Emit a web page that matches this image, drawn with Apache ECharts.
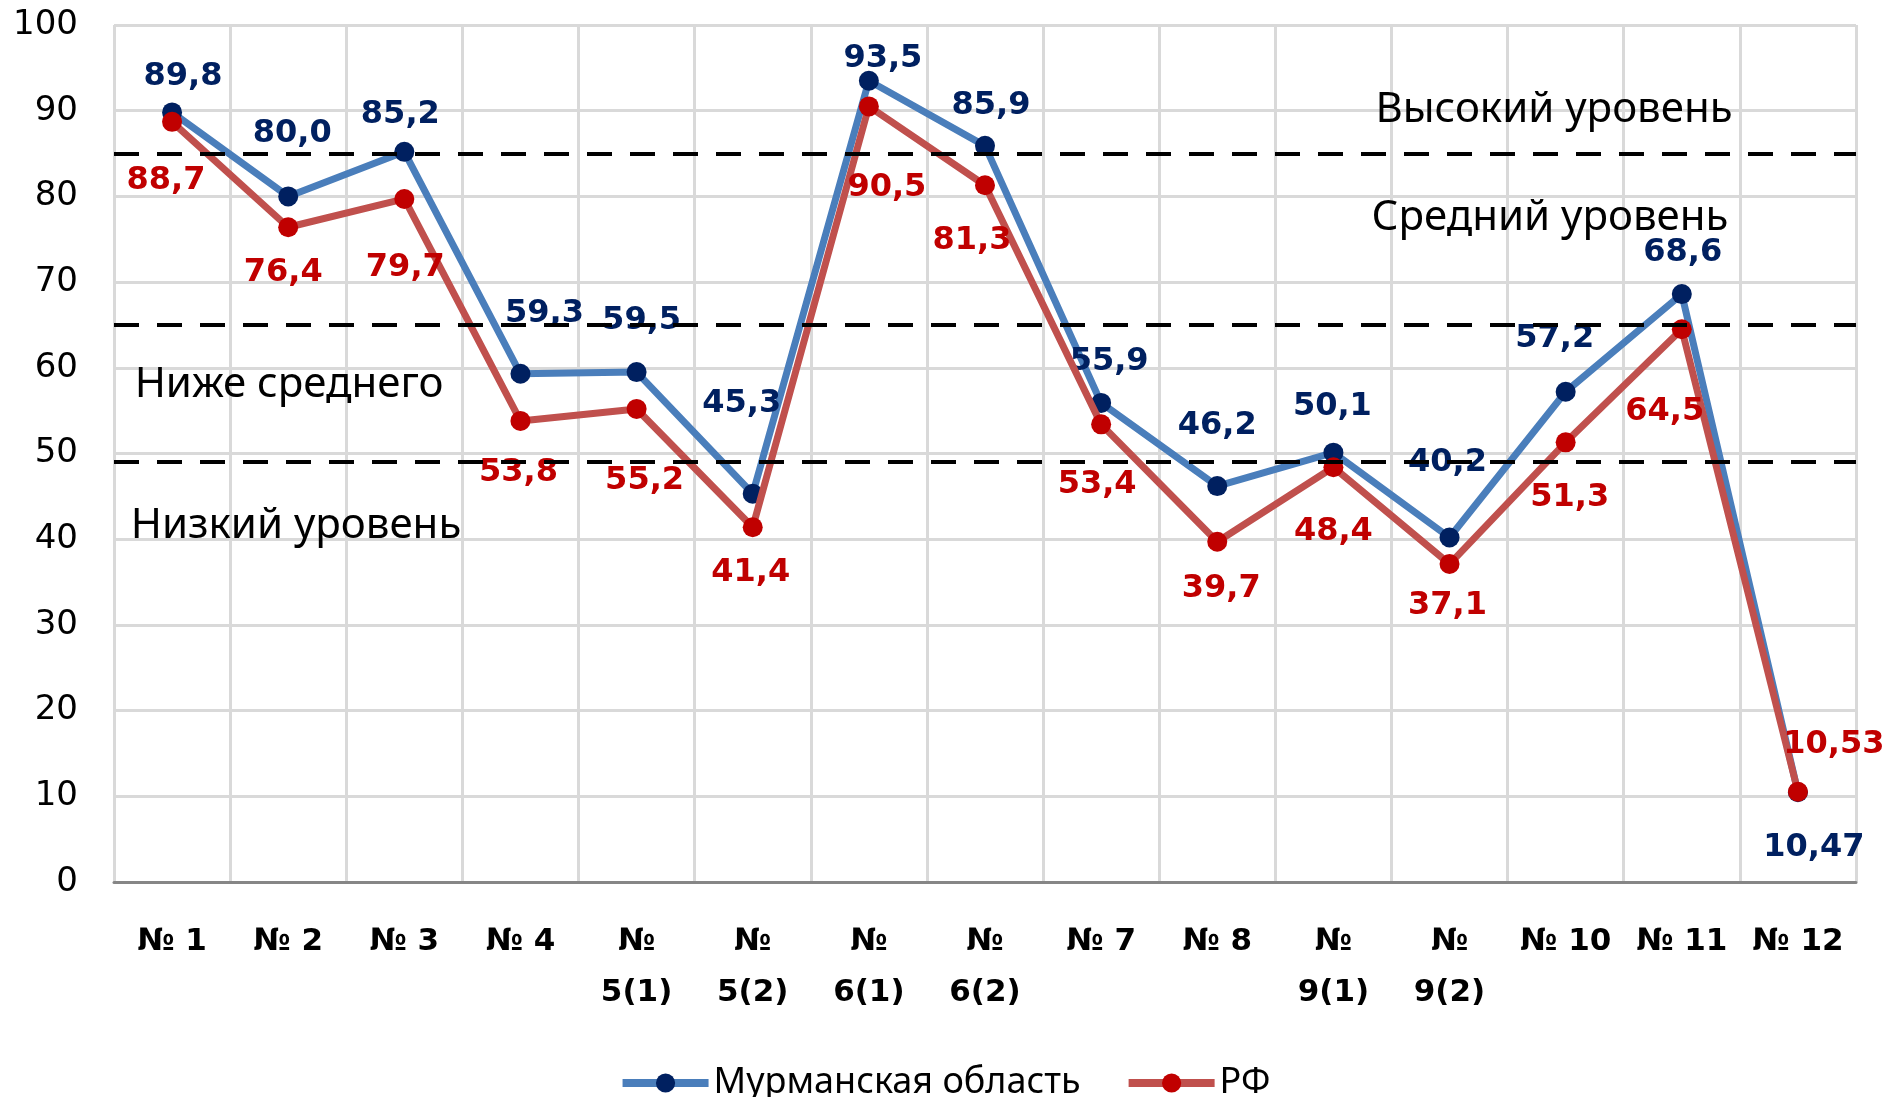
<!DOCTYPE html>
<html>
<head>
<meta charset="utf-8">
<script src="https://cdn.jsdelivr.net/npm/echarts@6/dist/echarts.min.js"></script>
<style>
    html, body { margin: 0; padding: 0; background: #fff; }
    #chartContainer { width: 1889px; height: 1097px; }
</style>
</head>
<body>
<div id="chartContainer"></div>
<script>
const categories = ['№ 1', '№ 2', '№ 3', '№ 4', '№ 5(1)', '№ 5(2)', '№ 6(1)', '№ 6(2)',
    '№ 7', '№ 8', '№ 9(1)', '№ 9(2)', '№ 10', '№ 11', '№ 12'];
const murmanskValues = [89.8, 80.0, 85.2, 59.3, 59.5, 45.3, 93.5, 85.9, 55.9, 46.2, 50.1, 40.2, 57.2, 68.6, 10.47];
const rfValues = [88.7, 76.4, 79.7, 53.8, 55.2, 41.4, 90.5, 81.3, 53.4, 39.7, 48.4, 37.1, 51.3, 64.5, 10.53];
const levelLines = [85, 65, 49];
const yTicks = [0, 100, 10];

// сдвиги подписей относительно точек (как в исходной диаграмме)
const murmanskLabelShift = [[11, -36], [4, -63], [-4, -37], [24, -60], [5, -51], [-11, -90], [14, -22], [6, -40],
    [8, -41], [0, -60], [-1, -46], [-2, -75], [-11, -53], [1, -41], [16, 55]];
const rfLabelShift = [[-6, 59], [-5, 45], [1, 69], [-2, 52], [8, 72], [-2, 45], [18, 81], [-13, 55],
    [-4, 60], [4, 47], [0, 64], [-2, 42], [4, 55], [-17, 82], [36, -47]];

function formatValue(v) {
    const s = Number.isInteger(Math.round(v * 100) / 10) ? v.toFixed(1) : v.toFixed(2);
    return s.replace('.', ',');
}

function withLabels(values, shifts) {
    return values.map((v, i) => ({
        value: v,
        label: {offset: shifts[i]}
    }));
}

const textFont = '"Noto Sans", "Open Sans", sans-serif';

const chart = echarts.init(document.getElementById('chartContainer'), null, {renderer: 'canvas'});
const option = {
    animation: false,
    grid: {
        left: 114,
        right: 33,
        top: 25,
        bottom: 215,
        containLabel: false
    },
    legend: {
        data: ['Мурманская область', 'РФ'],
        left: 'center',
        top: 1060,
        itemWidth: 86,
        itemHeight: 24,
        itemGap: 44,
        lineStyle: {width: 8},
        textStyle: {
            fontFamily: textFont,
            fontSize: 36,
            color: '#000'
        }
    },
    xAxis: {
        type: 'category',
        data: categories,
        boundaryGap: true,
        axisLine: {lineStyle: {color: '#868686', width: 3}},
        axisTick: {show: false},
        splitLine: {show: true, interval: 0, lineStyle: {color: '#d9d9d9', width: 3}},
        axisLabel: {
            interval: 0,
            margin: 34,
            fontFamily: 'DejaVu Sans',
            fontWeight: 'bold',
            fontSize: 31,
            lineHeight: 51,
            color: '#000',
            formatter: v => v.indexOf('(') > 0 ? v.replace(' ', '\n') : v
        }
    },
    yAxis: {
        type: 'value',
        min: yTicks[0],
        max: yTicks[1],
        interval: yTicks[2],
        axisLine: {show: false},
        axisTick: {show: false},
        splitLine: {lineStyle: {color: '#d9d9d9', width: 3}},
        axisLabel: {
            margin: 36,
            fontFamily: 'DejaVu Sans',
            fontSize: 34,
            color: '#000'
        }
    },
    graphic: [
        {type: 'text', x: 1554, y: 110, z: 20, style: {text: 'Высокий уровень', font: '42px ' + textFont, fill: '#000', align: 'center', verticalAlign: 'middle'}},
        {type: 'text', x: 1550, y: 218, z: 20, style: {text: 'Средний уровень', font: '42px ' + textFont, fill: '#000', align: 'center', verticalAlign: 'middle'}},
        {type: 'text', x: 289, y: 385, z: 20, style: {text: 'Ниже среднего', font: '42px ' + textFont, fill: '#000', align: 'center', verticalAlign: 'middle'}},
        {type: 'text', x: 296, y: 526, z: 20, style: {text: 'Низкий уровень', font: '42px ' + textFont, fill: '#000', align: 'center', verticalAlign: 'middle'}}
    ],
    series: [
        {
            name: 'Мурманская область',
            type: 'line',
            z: 2,
            data: withLabels(murmanskValues, murmanskLabelShift),
            symbol: 'circle',
            symbolSize: 20,
            lineStyle: {color: '#4a7ebb', width: 7},
            itemStyle: {color: '#002060'},
            label: {
                show: true,
                position: 'inside',
                fontFamily: 'DejaVu Sans',
                fontWeight: 'bold',
                fontSize: 32,
                color: '#002060',
                formatter: p => formatValue(p.value)
            }
        },
        {
            name: 'РФ',
            type: 'line',
            z: 3,
            data: withLabels(rfValues, rfLabelShift),
            symbol: 'circle',
            symbolSize: 20,
            lineStyle: {color: '#c0504d', width: 7},
            itemStyle: {color: '#c00000'},
            label: {
                show: true,
                position: 'inside',
                fontFamily: 'DejaVu Sans',
                fontWeight: 'bold',
                fontSize: 32,
                color: '#c00000',
                formatter: p => formatValue(p.value)
            }
        },
        {
            name: 'levels',
            type: 'line',
            z: 10,
            data: [],
            markLine: {
                silent: true,
                symbol: 'none',
                label: {show: false},
                lineStyle: {color: '#000', width: 4, type: [25, 18]},
                data: levelLines.map(v => ({yAxis: v}))
            }
        }
    ]
};
chart.setOption(option);
</script>
</body>
</html>
